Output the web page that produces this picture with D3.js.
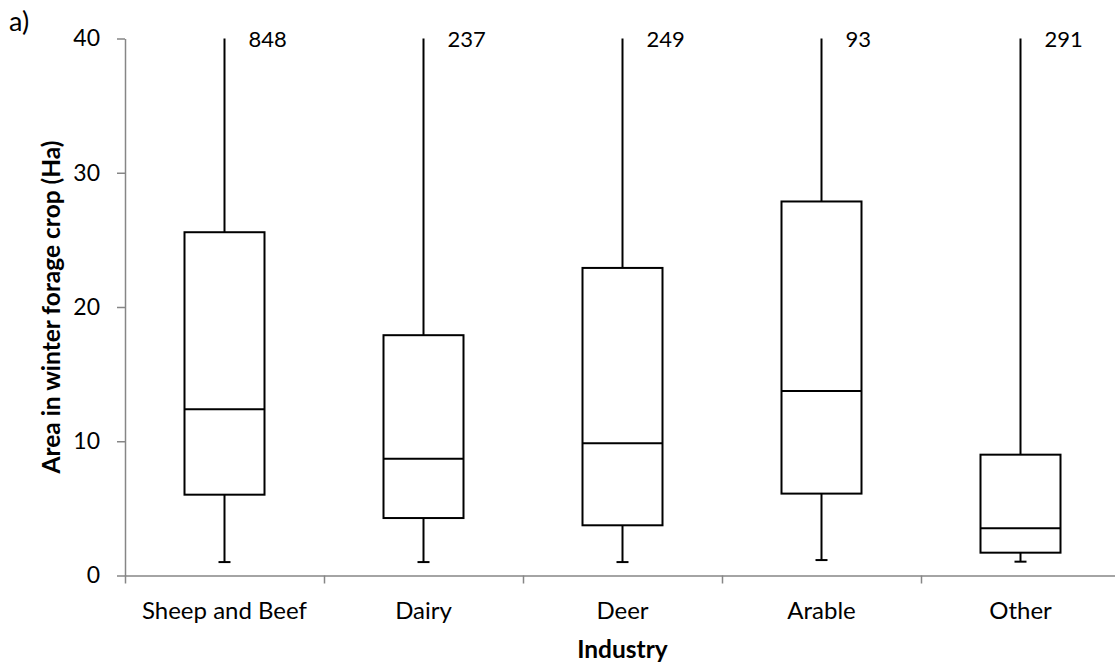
<html>
<head>
    <meta charset="utf-8">
    <script src="https://d3js.org/d3.v7.min.js"></script>
    <style>
        body { margin: 0; background: #fff; }
        text { font-family: Lato, "Open Sans", sans-serif; fill: #000; }
        .axis path, .axis line { stroke: #868686; stroke-width: 1.5; }
        .axis text { font-size: 23px; }
        .xlab text { font-size: 24px; }
    </style>
</head>
<body>
<svg id="chart" width="1115" height="668"></svg>
<script>
    // data
    const industries = ["Sheep and Beef", "Dairy", "Deer", "Arable", "Other"];
    const minVals    = [1.0, 1.0, 1.0, 1.15, 1.03];
    const q1Vals     = [6.02, 4.28, 3.74, 6.10, 1.70];
    const medVals    = [12.38, 8.70, 9.85, 13.75, 3.52];
    const q3Vals     = [25.57, 17.9, 22.91, 27.86, 9.0];
    const maxVals    = [40, 40, 40, 40, 40];
    const counts     = ["848", "237", "249", "93", "291"];
    const yTicks     = [0, 10, 20, 30, 40];

    const svg = d3.select("svg#chart");
    const margin = {top: 38.5, left: 125, right: -5, bottom: 92.5};
    const width = +svg.attr("width");
    const height = +svg.attr("height");

    const x = d3.scaleBand()
                .domain(industries)
                .range([margin.left, width - margin.right])
                .padding(0);
    const y = d3.scaleLinear()
                .domain([0, 40])
                .range([height - margin.bottom, margin.top]);

    const boxW = 80;
    const capW = 12;

    // y axis
    svg.append("g")
       .attr("class", "axis")
       .attr("transform", `translate(${margin.left},0)`)
       .call(d3.axisLeft(y).tickValues(yTicks).tickSize(8).tickSizeOuter(0).tickPadding(17));

    // x axis: line + labels at band centres
    const xAxis = svg.append("g")
       .attr("class", "axis xlab")
       .attr("transform", `translate(0,${y(0)})`)
       .call(d3.axisBottom(x).tickSize(0).tickSizeOuter(0).tickPadding(26));
    xAxis.selectAll("text").attr("dy", "0.71em");

    // x ticks at band edges
    const edges = d3.range(industries.length + 1);
    const edgeScale = d3.scaleLinear().domain([0, industries.length]).range(x.range());
    svg.append("g")
       .attr("class", "axis")
       .attr("transform", `translate(0,${y(0)})`)
       .call(d3.axisBottom(edgeScale).tickValues(edges).tickFormat("").tickSize(8).tickSizeOuter(0))
       .select(".domain").remove();

    const boxes = svg.append("g");
    industries.forEach((name, i) => {
        const cx = x(name) + x.bandwidth() / 2;
        const g = boxes.append("g").attr("stroke", "#000").attr("stroke-width", 2).attr("fill", "none");
        // whiskers
        g.append("line").attr("x1", cx).attr("x2", cx).attr("y1", y(maxVals[i])).attr("y2", y(q3Vals[i]));
        g.append("line").attr("x1", cx).attr("x2", cx).attr("y1", y(q1Vals[i])).attr("y2", y(minVals[i]));
        g.append("line").attr("x1", cx - capW / 2).attr("x2", cx + capW / 2)
                        .attr("y1", y(minVals[i])).attr("y2", y(minVals[i]));
        // box
        g.append("rect")
         .attr("x", cx - boxW / 2)
         .attr("y", y(q3Vals[i]))
         .attr("width", boxW)
         .attr("height", y(q1Vals[i]) - y(q3Vals[i]))
         .attr("fill", "#fff");
        g.append("line").attr("x1", cx - boxW / 2).attr("x2", cx + boxW / 2)
                        .attr("y1", y(medVals[i])).attr("y2", y(medVals[i]));
        // n label
        svg.append("text")
           .attr("x", cx + 24)
           .attr("y", y(maxVals[i]) + 8)
           .attr("font-size", "22px")
           .text(counts[i]);
    });

    // axis titles
    svg.append("text")
       .attr("x", (x.range()[0] + x.range()[1]) / 2)
       .attr("y", 658)
       .attr("text-anchor", "middle")
       .attr("font-size", "24.5px")
       .attr("font-weight", "bold")
       .text("Industry");

    svg.append("text")
       .attr("transform", `translate(60,${(y(0) + y(40)) / 2}) rotate(-90)`)
       .attr("text-anchor", "middle")
       .attr("font-size", "24.5px")
       .attr("font-weight", "bold")
       .text("Area in winter forage crop (Ha)");

    svg.append("text")
       .attr("x", 9)
       .attr("y", 31)
       .style("font-size", "27px")
       .text("a)");
</script>
</body>
</html>
